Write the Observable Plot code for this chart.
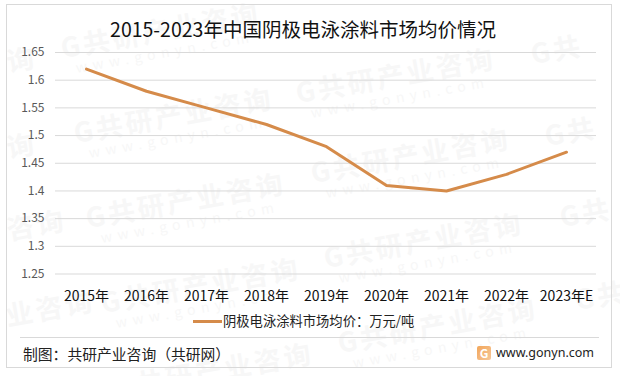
<!DOCTYPE html>
<html><head><meta charset="utf-8">
<script src="https://cdn.jsdelivr.net/npm/d3@7"></script>
<script src="https://cdn.jsdelivr.net/npm/@observablehq/plot@0.6"></script>
<style>
html,body{margin:0;padding:0;background:#fff}
body{width:620px;height:376px;position:relative;overflow:hidden;font-family:"Noto Sans CJK SC","Noto Sans",sans-serif}
.abs{position:absolute;white-space:nowrap}
#frame{left:6px;top:4px;width:606px;height:364px;box-sizing:border-box;border:1px solid #d9d9d9}
#wm span{position:absolute;transform:rotate(-10deg);transform-origin:0 100%;color:#f7f7f7;white-space:nowrap;line-height:1}
.wt{font-size:27px;font-weight:700;letter-spacing:3px}
.wu{font-size:14px;letter-spacing:5.5px}
#plot{left:0;top:0}
svg{background:transparent!important}
</style></head><body>
<div id="wm" class="abs" style="left:0;top:0;width:620px;height:376px;overflow:hidden"></div>
<div id="frame" class="abs"></div>
<div id="plot" class="abs"></div>
<div class="abs" style="left:0;width:620px;top:15px;text-align:center;margin-left:-7px;font-size:19.5px;line-height:28px;color:#111">2015-2023年中国阴极电泳涂料市场均价情况</div>
<div class="abs" style="left:193px;top:320px;width:29px;height:3px;background:#d58b4a"></div>
<div class="abs" style="left:223px;top:312px;font-size:13.3px;line-height:18px;color:#222">阴极电泳涂料市场均价：万元/吨</div>
<div class="abs" style="left:20px;top:337px;width:579px;height:1px;background:#d9d9d9"></div>
<div class="abs" style="left:23px;top:343px;font-size:14.8px;line-height:22px;color:#222">制图：共研产业咨询（共研网）</div>
<div class="abs" style="left:477px;top:346px;width:14px;height:14px;border-radius:2px;background:linear-gradient(135deg,#f2a65a,#f6c79a)"></div>
<div class="abs" style="left:477px;top:346px;width:14px;height:14px;line-height:14px;text-align:center;font-size:12px;font-weight:700;color:#fff">G</div>
<div class="abs" style="left:496px;top:343px;font-family:'Noto Sans';font-size:12.5px;line-height:20px;color:#222">www.gonyn.com</div>
<script>
const years = ["2015年","2016年","2017年","2018年","2019年","2020年","2021年","2022年","2023年E"];
const prices = [1.62,1.58,1.55,1.52,1.48,1.41,1.40,1.43,1.47];
const yTicks = [1.25,1.3,1.35,1.4,1.45,1.5,1.55,1.6,1.65];
const table = years.map((year,i)=>({year,price:prices[i]}));

const wmFull = "G共研产业咨询", wmUrl = "www.gonyn.com";
const wmUnits = [
  [9,74,"询",null],[9,160,"询",null],[9,242,"咨询",null],[8,328,"业咨询",null],
  [63,60,wmFull,wmUrl],[76,145,wmFull,wmUrl],[88,230,wmFull,wmUrl],[103,315,wmFull,wmUrl],[116,400,wmFull,null],
  [298,105,wmFull,wmUrl],[313,185,wmFull,wmUrl],[326,270,wmFull,wmUrl],[340,355,wmFull,wmUrl],
  [533,66,"G共",null],[547,148,"G共",null],[562,229,"G共",null],[577,312,"G共",null]
];
const wm = document.getElementById("wm");
for (const [x,y,t,u] of wmUnits) {
  const a = document.createElement("span");
  a.className = "wt"; a.textContent = t;
  a.style.left = x+"px"; a.style.top = (y-27)+"px";
  wm.appendChild(a);
  if (u) {
    const b = document.createElement("span");
    b.className = "wu"; b.textContent = u;
    b.style.left = (x+14)+"px"; b.style.top = y+"px";
    wm.appendChild(b);
  }
}

const chart = Plot.plot({
  width: 620, height: 376,
  marginLeft: 55, marginRight: 24, marginTop: 52, marginBottom: 102.5,
  style: {background:"transparent", fontFamily:'"Noto Sans CJK SC","Noto Sans",sans-serif'},
  x: {type:"point", domain: years, padding:0.5, label:null, axis:null},
  y: {domain:[1.25,1.65], label:null, axis:null},
  marks: [
    Plot.ruleY(yTicks, {stroke:"#d9d9d9", strokeWidth:1}),
    Plot.axisY(yTicks, {anchor:"left", tickSize:0, tickPadding:11, label:null, tickFormat:d=>String(d), fontSize:12, fill:"#595959"}),
    Plot.axisX(years, {anchor:"bottom", tickSize:0, tickPadding:17, label:null, fontSize:14, fill:"#111"}),
    Plot.line(table, {x:"year", y:"price", stroke:"#d58b4a", strokeWidth:3, strokeLinejoin:"round", strokeLinecap:"round"})
  ]
});
document.getElementById("plot").appendChild(chart);
</script>
</body></html>
